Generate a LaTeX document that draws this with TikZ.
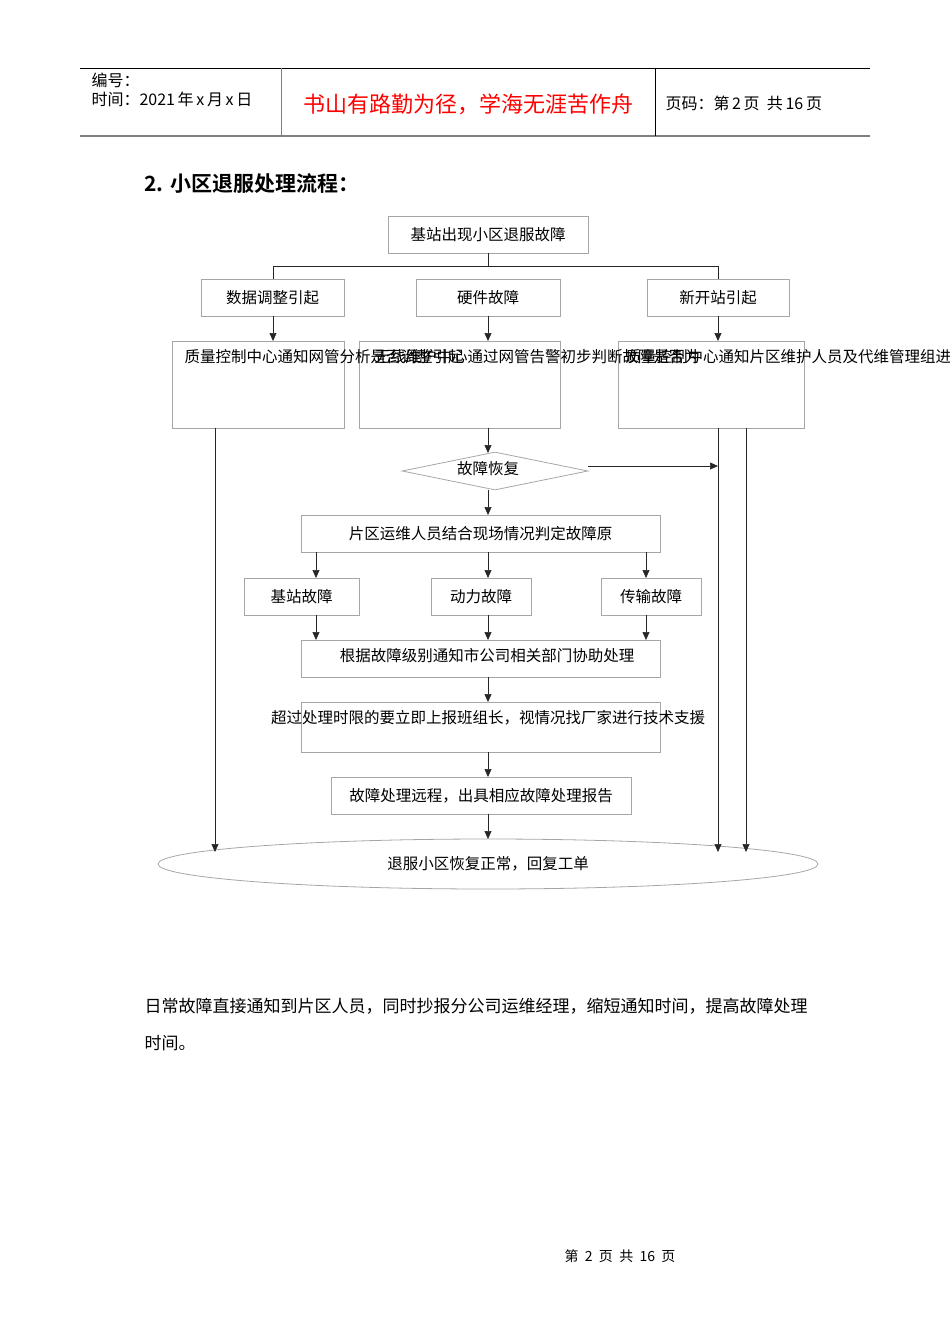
\documentclass[tikz,border=0pt]{standalone}
\usepackage{fontspec}
\setmainfont{Noto Sans CJK SC}
\newfontfamily\cjkb{Noto Sans CJK SC}[BoldFont={* Bold}]
\usetikzlibrary{arrows.meta,shapes.geometric}
\begin{document}
\begin{tikzpicture}[x=1pt,y=-1pt,
  bx/.style={draw=gray!70,line width=0.8pt,inner sep=0pt},
  lab/.style={font=\fontsize{15.5}{17}\selectfont},
  ar/.style={-{Triangle[length=8,width=7]},line width=0.6pt,draw=black!85},
  ln/.style={line width=0.6pt,draw=black!85}]
\useasboundingbox (0,0) rectangle (950,1344);
% header
\draw[line width=0.8pt] (80,68) -- (870,68);
\draw[line width=1.5pt,gray] (80,136) -- (870,136);
\draw[line width=0.8pt,gray] (281,68) -- (281,136);
\draw[line width=0.8pt] (655,68) -- (655,136);
\node[anchor=west,font=\fontsize{16}{18}\selectfont] (h1) at (88,80) {编号：};
\node[anchor=west,font=\fontsize{16}{18}\selectfont] (h2) at (88,99) {时间：2021\,年\,x\,月\,x\,日};
\node[font=\fontsize{22}{24}\selectfont,text=red] (h3) at (468,104) {书山有路勤为径，学海无涯苦作舟};
\node[anchor=west,font=\fontsize{16}{18}\selectfont] (h4) at (662,103) {页码：第\,2\,页\ \ 共\,16\,页};
\node[anchor=west,font=\cjkb\bfseries\fontsize{21}{24}\selectfont] (ttl) at (141,184) {2. 小区退服处理流程：};
% boxes
\node[bx,lab,minimum width=200,minimum height=37] (top) at (488,234.5) {基站出现小区退服故障};
\node[bx,lab,minimum width=143,minimum height=37] (a) at (272.5,297.5) {数据调整引起};
\node[bx,lab,minimum width=144,minimum height=37] (b) at (488,297.5) {硬件故障};
\node[bx,lab,minimum width=142,minimum height=37] (c) at (718,297.5) {新开站引起};
\draw[bx] (172,341) rectangle (344,428);
\draw[bx] (359,341) rectangle (560,428);
\draw[bx] (618,341) rectangle (804,428);
\coordinate (b1t) at (273,341); \coordinate (b2t) at (488,341); \coordinate (b3t) at (718,341);
\node[lab,anchor=west] (t1) at (181,357) {质量控制中心通知网管分析是否调整引起};
\node[lab,anchor=west] (t2) at (371,357) {无线维护中心通过网管告警初步判断故障是否为};
\node[lab,anchor=west] (t3) at (622,357) {质量控制中心通知片区维护人员及代维管理组进};
\node[diamond,bx,lab,aspect=4.9,minimum width=186,minimum height=38] (d) at (495,471) {};
\node[lab] (dt) at (488,469) {故障恢复};
\node[bx,lab,minimum width=359,minimum height=37] (e) at (480.5,533.5) {片区运维人员结合现场情况判定故障原};
\node[bx,lab,minimum width=115,minimum height=37] (f1) at (301.5,596.5) {基站故障};
\node[bx,lab,minimum width=100,minimum height=37] (f2) at (481,596.5) {动力故障};
\node[bx,lab,minimum width=100,minimum height=37] (f3) at (651,596.5) {传输故障};
\draw[bx] (301,640) rectangle (660,677);
\node[lab] (g) at (487,656) {根据故障级别通知市公司相关部门协助处理};
\draw[bx] (301,702) rectangle (660,752);
\node[lab] (ht) at (488,718) {超过处理时限的要立即上报班组长，视情况找厂家进行技术支援};
\node[bx,lab,minimum width=300,minimum height=37] (k) at (481,795.5) {故障处理远程，出具相应故障处理报告};
\node[ellipse,bx,lab,minimum width=660,minimum height=50] (el) at (488,864) {退服小区恢复正常，回复工单};
% connectors
\draw[ln] (top.south) -- (488,266);
\draw[ln] (273,279) -- (273,266) -- (718,266) -- (718,279);
\draw[ar] (273,316) -- (b1t);
\draw[ar] (b.south) -- (b2t);
\draw[ar] (718,316) -- (b3t);
\draw[ar] (215,428) -- (215,852);
\draw[ar] (488,428) -- (488,453);
\draw[ar] (588,466) -- (718,466);
\draw[ar] (718,428) -- (718,852);
\draw[ar] (746,428) -- (746,852);
\draw[ar] (488,490) -- (488,515);
\foreach \x in {316,488,646}{
  \draw[ar] (\x,552) -- (\x,578);
  \draw[ar] (\x,615) -- (\x,640);}
\draw[ar] (488,677) -- (488,702);
\draw[ar] (488,752) -- (488,777);
\draw[ar] (488,814) -- (488,839);
% text
\node[anchor=west,font=\fontsize{17}{19}\selectfont] (p1) at (141,1006) {日常故障直接通知到片区人员，同时抄报分公司运维经理，缩短通知时间，提高故障处理};
\node[anchor=west,font=\fontsize{17}{19}\selectfont] (p2) at (141,1043) {时间。};
\node[font=\fontsize{14}{16}\selectfont] (ft) at (620,1256) {第\ \ 2\ \ 页\ \ 共\ \ 16\ \ 页};
\end{tikzpicture}
\end{document}
